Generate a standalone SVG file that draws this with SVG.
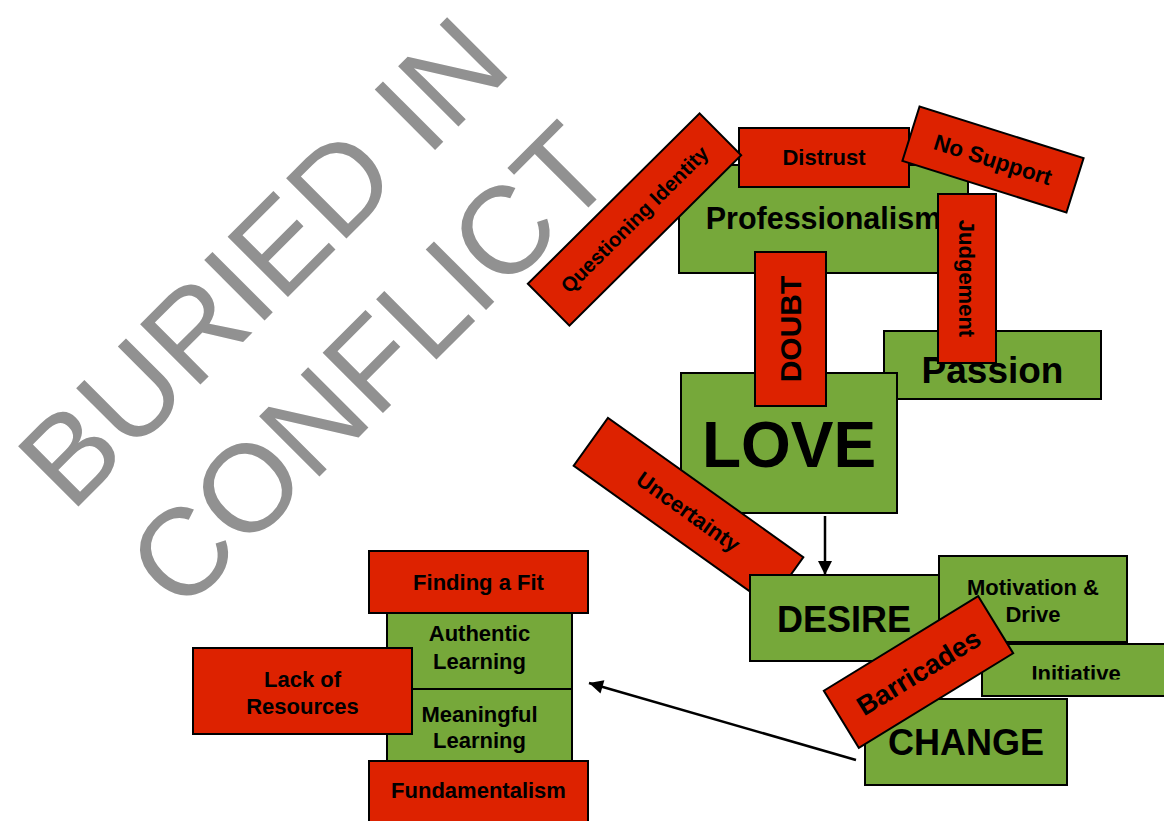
<svg xmlns="http://www.w3.org/2000/svg" width="1164" height="821" viewBox="0 0 1164 821">
<defs>
<style>
.r{fill:#dd2200;stroke:#000;stroke-width:2}
.g{fill:#76a83a;stroke:#000;stroke-width:2}
text{font-family:"Liberation Sans",Arial,Helvetica,sans-serif;font-weight:bold;fill:#000;text-anchor:middle;font-size:22px}
.big{font-weight:normal;fill:#919191;font-size:124px}
.c{stroke:#000;stroke-width:2.5;fill:none}
</style>
<marker id="ah" viewBox="0 0 10 10" refX="10" refY="5" markerUnits="userSpaceOnUse" markerWidth="16" markerHeight="14" orient="auto">
<path d="M0,0 L10,5 L0,10 z" fill="#000"/>
</marker>
<clipPath id="clipInit"><rect x="980" y="640" width="200" height="39.5"/></clipPath>
</defs>
<rect width="1164" height="821" fill="#fff"/>
<g id="title">
<text class="big" transform="translate(293,292) rotate(-45)">BURIED IN</text>
<text class="big" transform="translate(400,396) rotate(-45)">CONFLICT</text>
</g>
<g id="professionalism"><rect class="g" x="679" y="165" width="289" height="108"/><text x="823.5" y="229" style="font-size:30.5px">Professionalism</text></g>
<g id="distrust"><rect class="r" x="739" y="128" width="170" height="59"/><text x="824" y="165">Distrust</text></g>
<g id="questioning-identity" transform="translate(634.5,219.5) rotate(-44.8)"><rect class="r" x="-121" y="-29.5" width="242" height="59"/><text x="0" y="7" style="font-size:20.5px">Questioning Identity</text></g>
<g id="no-support" transform="translate(993,159.5) rotate(17.5)"><rect class="r" x="-86" y="-28.5" width="172" height="57"/><text x="0" y="8" style="font-size:22.5px">No Support</text></g>
<g id="passion"><rect class="g" x="884" y="331" width="217" height="68"/><text x="992.5" y="383" style="font-size:37px">Passion</text></g>
<g id="love"><rect class="g" x="681" y="373" width="216" height="140"/><text x="789" y="467" style="font-size:64px">LOVE</text></g>
<g id="doubt"><rect class="r" x="755" y="252" width="71" height="154"/><text transform="translate(790.5,329) rotate(-90)" x="0" y="10.7" style="font-size:30px">DOUBT</text></g>
<g id="judgement"><rect class="r" x="938" y="194" width="58" height="169"/><text transform="translate(967,278.5) rotate(90)" x="0" y="8">Judgement</text></g>
<g id="uncertainty" transform="translate(688.5,511.5) rotate(35.5)"><rect class="r" x="-120" y="-29.5" width="240" height="59"/><text x="0" y="8">Uncertainty</text></g>
<g id="desire"><rect class="g" x="750" y="575" width="189" height="86"/><text x="844" y="632" style="font-size:36px">DESIRE</text></g>
<g id="motivation"><rect class="g" x="939" y="556" width="188" height="86"/><text x="1033" y="595">Motivation &amp;</text><text x="1033" y="622">Drive</text></g>
<g id="initiative"><rect class="g" x="982" y="644" width="192" height="52"/><text x="1076" y="681" clip-path="url(#clipInit)">Initiative</text></g>
<g id="change"><rect class="g" x="865" y="699" width="202" height="86"/><text x="966" y="755" style="font-size:36px">CHANGE</text></g>
<g id="barricades" transform="translate(918.5,672) rotate(-31.5)"><rect class="r" x="-90.5" y="-33.5" width="181" height="67"/><text x="0" y="9.5" style="font-size:27px">Barricades</text></g>
<g id="authentic"><rect class="g" x="387" y="613" width="185" height="76"/><text x="479.5" y="641">Authentic</text><text x="479.5" y="669">Learning</text></g>
<g id="meaningful"><rect class="g" x="387" y="689" width="185" height="72"/><text x="479.5" y="722">Meaningful</text><text x="479.5" y="748">Learning</text></g>
<g id="finding-a-fit"><rect class="r" x="369" y="551" width="219" height="62"/><text x="478.5" y="590">Finding a Fit</text></g>
<g id="fundamentalism"><rect class="r" x="369" y="761" width="219" height="62"/><text x="478.5" y="798">Fundamentalism</text></g>
<g id="lack-of-resources"><rect class="r" x="193" y="648" width="219" height="86"/><text x="302.5" y="687">Lack of</text><text x="302.5" y="714">Resources</text></g>
<g id="connectors">
<line class="c" x1="825" y1="516" x2="825" y2="575" marker-end="url(#ah)"/>
<line class="c" x1="856" y1="760" x2="589" y2="683" marker-end="url(#ah)"/>
</g>
</svg>
